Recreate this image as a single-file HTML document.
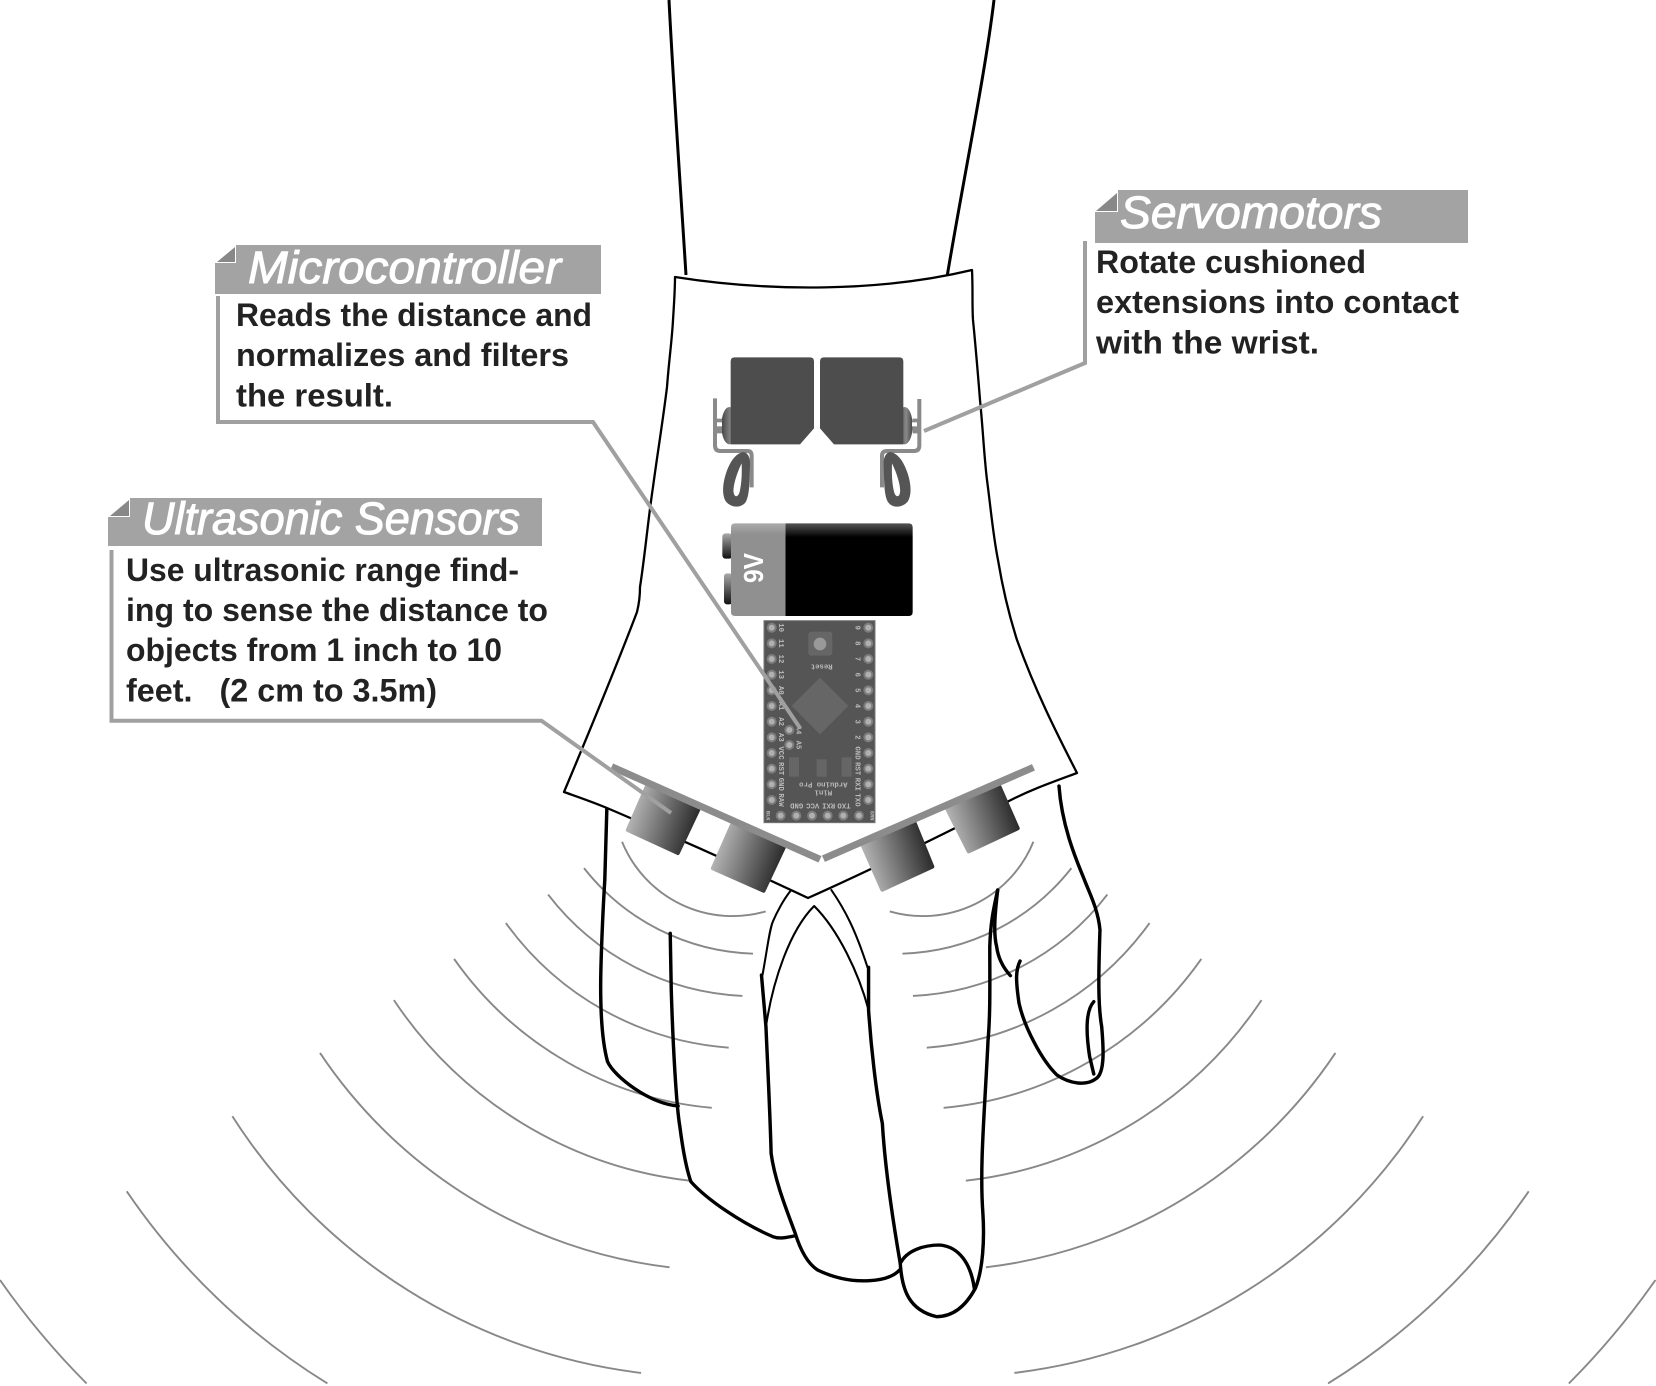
<!DOCTYPE html>
<html><head><meta charset="utf-8"><style>
html,body{margin:0;padding:0;background:#fff}
svg{display:block}
.t{font-family:"Liberation Sans",sans-serif;font-style:italic;fill:#fff;font-size:45px;stroke:#fff;stroke-width:1px}
.b{font-family:"Liberation Sans",sans-serif;font-weight:bold;fill:#222;font-size:32px}
.m{font-family:"Liberation Mono",monospace;fill:#bbb;font-size:22px;font-weight:bold}
</style></head><body>
<svg xmlns="http://www.w3.org/2000/svg" width="1656" height="1386" viewBox="0 0 1656 1386">
<defs>
<linearGradient id="sg" x1="0" y1="0.35" x2="1" y2="0.65"><stop offset="0" stop-color="#bdbdbd"/><stop offset="1" stop-color="#222"/></linearGradient>
<linearGradient id="sr" x1="0" y1="0.65" x2="1" y2="0.35"><stop offset="0" stop-color="#bdbdbd"/><stop offset="1" stop-color="#222"/></linearGradient>
<linearGradient id="bk" x1="0" y1="0" x2="0" y2="1"><stop offset="0" stop-color="#555"/><stop offset="0.15" stop-color="#000"/><stop offset="1" stop-color="#000"/></linearGradient>
<linearGradient id="gy" x1="0" y1="0" x2="0" y2="1"><stop offset="0" stop-color="#ababab"/><stop offset="0.12" stop-color="#909090"/><stop offset="1" stop-color="#909090"/></linearGradient>
<linearGradient id="tm" x1="0" y1="0" x2="0" y2="1"><stop offset="0" stop-color="#aaa"/><stop offset="1" stop-color="#111"/></linearGradient>
<linearGradient id="hn" x1="0" y1="0" x2="1" y2="0"><stop offset="0" stop-color="#444"/><stop offset="0.6" stop-color="#888"/><stop offset="1" stop-color="#444"/></linearGradient>
</defs>

<!-- sound arcs, display coords -->
<g transform="scale(1.0561)" fill="none" stroke="#888" stroke-width="1.8">
<path d="M589,797A113,113 0 0 0 725,863"/>
<path d="M553,822A212,212 0 0 0 713,903"/>
<path d="M519,847A246,246 0 0 0 703,943"/>
<path d="M479,874A286,286 0 0 0 690,992"/>
<path d="M430,908A335,335 0 0 0 674,1049"/>
<path d="M373,947A390,390 0 0 0 653,1118"/>
<path d="M303,997A464,464 0 0 0 634,1200"/>
<path d="M220,1057A536,536 0 0 0 607,1300"/>
<path d="M120,1128A630,630 0 0 0 310,1310"/>
<path d="M0,1212A730,730 0 0 0 82,1310"/>
<g transform="translate(1567.5,0) scale(-1,1)">
<path d="M589,797A113,113 0 0 0 725,863"/>
<path d="M553,822A212,212 0 0 0 713,903"/>
<path d="M519,847A246,246 0 0 0 703,943"/>
<path d="M479,874A286,286 0 0 0 690,992"/>
<path d="M430,908A335,335 0 0 0 674,1049"/>
<path d="M373,947A390,390 0 0 0 653,1118"/>
<path d="M303,997A464,464 0 0 0 634,1200"/>
<path d="M220,1057A536,536 0 0 0 607,1300"/>
<path d="M120,1128A630,630 0 0 0 310,1310"/>
<path d="M0,1212A730,730 0 0 0 82,1310"/>
</g>
</g>

<!-- hand -->
<g transform="translate(580,880) scale(.34435,.33333)" fill="none" stroke="#000" stroke-width="10" stroke-linecap="round" stroke-linejoin="round">
<path d="M78,-215L72,0C66,100 60,250 60,320C60,420 68,500 80,545C100,590 200,670 285,678"/>
<path d="M262,160L265,330C270,500 280,680 290,740C300,820 310,870 322,905C370,960 470,1030 560,1070C580,1078 600,1072 622,1068"/>
<path d="M527,285L540,440C545,560 552,700 555,820C565,900 600,990 625,1060C640,1110 660,1150 690,1170C740,1195 790,1205 840,1202C880,1200 910,1190 928,1170"/>
<path d="M838,262L838,390C845,500 860,640 878,730C885,850 905,1000 930,1150C935,1230 955,1290 1035,1310C1100,1310 1135,1250 1148,1225C1170,1170 1175,1080 1170,1000C1160,860 1175,700 1185,480C1192,400 1190,300 1190,200C1192,130 1200,90 1213,30"/>
<path d="M930,1150C950,1110 1000,1095 1045,1095C1100,1100 1135,1150 1145,1225"/>
<path d="M540,440C560,300 610,150 680,78C750,150 810,280 838,390" stroke-width="6"/>
<path d="M530,285C545,200 550,150 560,125C570,100 590,60 612,32" stroke-width="6"/>
<path d="M730,30C770,90 800,150 835,262" stroke-width="6"/>
<path d="M1213,30C1205,100 1200,160 1210,200C1215,240 1235,270 1250,287"/>
<path d="M1278,243C1265,270 1265,300 1275,370C1290,440 1340,540 1385,585C1420,610 1470,620 1500,595C1525,575 1520,500 1515,440C1505,380 1505,300 1510,150C1505,90 1480,40 1465,0C1450,-40 1400,-150 1391,-282"/>
<path d="M1492,365C1470,390 1468,450 1480,530L1492,582"/>
</g>

<!-- arm + sleeve -->
<g fill="none" stroke="#000" stroke-linejoin="round">
<path d="M669,0C673,80 680,180 686,275" stroke-width="3"/>
<path d="M994,0C985,75 965,170 947,277" stroke-width="3"/>
<path d="M675,277C770,292 880,292 972,270C973,290 972,305 973,320C976,350 978,375 980,400C983,430 984,455 987,480C991,510 993,535 998,560C1003,590 1009,615 1017,640C1035,690 1055,730 1077,773C1050,783 1030,790 1007,802C940,836 875,868 808,898C740,866 675,837 607,808C590,801 578,797 564,792C590,730 615,670 637,612C640,600 640,590 640,587C645,555 648,520 653,487C658,450 663,420 667,387C669,360 672,340 673,320C674,305 675,290 675,277Z" stroke-width="2.3" fill="#fff"/>
</g>

<!-- servos + battery -->
<g transform="translate(640,320) scale(.33333)">
<ellipse cx="268" cy="317" rx="24" ry="56" fill="url(#hn)"/>
<ellipse cx="794" cy="317" rx="24" ry="56" fill="url(#hn)"/>
<path d="M284,112H510Q522,112 522,124V325L480,373H272V124Q272,112 284,112Z" fill="#4d4d4d"/>
<path d="M552,112H778Q790,112 790,124V373H582L540,325V124Q540,112 552,112Z" fill="#4d4d4d"/>
<g fill="none" stroke="#8a8a8a" stroke-width="12">
<path d="M225,235V376Q225,393 241,393H322Q335,393 335,407V502"/>
<path d="M838,237V376Q838,393 822,393H742Q726,393 726,407V502"/>
</g>
<path d="M225,296H246V340H225Z M838,296H818V340H838Z" fill="#8a8a8a"/>
<rect x="231" y="307" width="15" height="12" fill="#fff"/>
<rect x="816" y="307" width="15" height="12" fill="#fff"/>
<path fill-rule="evenodd" fill="#555" d="M310,396C325,398 332,415 330,440C328,480 330,520 318,545C305,565 275,565 258,545C245,525 248,490 258,460C268,430 285,400 310,396ZM305,430C290,460 278,500 281,518C284,535 296,530 299,515C305,490 306,460 305,430Z"/>
<path transform="translate(1061,0) scale(-1,1)" fill-rule="evenodd" fill="#555" d="M310,396C325,398 332,415 330,440C328,480 330,520 318,545C305,565 275,565 258,545C245,525 248,490 258,460C268,430 285,400 310,396ZM305,430C290,460 278,500 281,518C284,535 296,530 299,515C305,490 306,460 305,430Z"/>
<rect x="247" y="640" width="30" height="76" rx="10" fill="url(#tm)"/>
<rect x="252" y="760" width="25" height="93" rx="9" fill="url(#tm)"/>
<path d="M436,610H806Q818,610 818,622V876Q818,888 806,888H436Z" fill="url(#bk)"/>
<path d="M436,610H285Q273,610 273,622V876Q273,888 285,888H436Z" fill="url(#gy)"/>
<text x="0" y="0" transform="translate(369,789) rotate(-90)" font-family="Liberation Sans,sans-serif" font-weight="bold" font-size="82" fill="#fff" textLength="90" lengthAdjust="spacingAndGlyphs">9V</text>
</g>

<!-- arduino -->
<g transform="translate(740,600) scale(.33333)">
<rect x="72" y="62" width="333" height="606" fill="#555"/>
<rect x="72" y="62" width="333" height="606" fill="none" stroke="#777" stroke-width="3"/>
<rect x="205" y="95" width="72" height="72" rx="8" fill="#666"/>
<circle cx="240" cy="132" r="19" fill="#999"/>
<path d="M240,233L325,318L240,403L155,318Z" fill="#666"/>
<rect x="147" y="472" width="30" height="58" fill="#666"/>
<rect x="230" y="478" width="30" height="52" fill="#666"/>
<rect x="305" y="472" width="30" height="58" fill="#666"/>
<g fill="#b0b0b0" stroke="#7c7c7c" stroke-width="6">
<circle cx="95" cy="83" r="12"/><circle cx="95" cy="130" r="12"/><circle cx="95" cy="177" r="12"/><circle cx="95" cy="224" r="12"/><circle cx="95" cy="271" r="12"/><circle cx="95" cy="318" r="12"/><circle cx="95" cy="365" r="12"/><circle cx="95" cy="412" r="12"/><circle cx="95" cy="459" r="12"/><circle cx="95" cy="506" r="12"/><circle cx="95" cy="553" r="12"/><circle cx="95" cy="600" r="12"/>
<circle cx="385" cy="83" r="12"/><circle cx="385" cy="130" r="12"/><circle cx="385" cy="177" r="12"/><circle cx="385" cy="224" r="12"/><circle cx="385" cy="271" r="12"/><circle cx="385" cy="318" r="12"/><circle cx="385" cy="365" r="12"/><circle cx="385" cy="412" r="12"/><circle cx="385" cy="459" r="12"/><circle cx="385" cy="506" r="12"/><circle cx="385" cy="553" r="12"/><circle cx="385" cy="600" r="12"/>
<circle cx="122" cy="647" r="12"/><circle cx="169" cy="647" r="12"/><circle cx="216" cy="647" r="12"/><circle cx="263" cy="647" r="12"/><circle cx="310" cy="647" r="12"/><circle cx="357" cy="647" r="12"/>
<circle cx="148" cy="390" r="12"/><circle cx="148" cy="435" r="12"/>
</g>
<g class="m" text-anchor="middle">
<text transform="translate(117,83) rotate(90)">10</text><text transform="translate(117,130) rotate(90)">11</text><text transform="translate(117,177) rotate(90)">12</text><text transform="translate(117,224) rotate(90)">13</text><text transform="translate(117,271) rotate(90)">A0</text><text transform="translate(117,318) rotate(90)">A1</text><text transform="translate(117,365) rotate(90)">A2</text><text transform="translate(117,412) rotate(90)">A3</text><text transform="translate(117,459) rotate(90)">VCC</text><text transform="translate(117,506) rotate(90)">RST</text><text transform="translate(117,553) rotate(90)">GND</text><text transform="translate(117,600) rotate(90)">RAW</text>
<text transform="translate(347,83) rotate(90)">9</text><text transform="translate(347,130) rotate(90)">8</text><text transform="translate(347,177) rotate(90)">7</text><text transform="translate(347,224) rotate(90)">6</text><text transform="translate(347,271) rotate(90)">5</text><text transform="translate(347,318) rotate(90)">4</text><text transform="translate(347,365) rotate(90)">3</text><text transform="translate(347,412) rotate(90)">2</text><text transform="translate(347,459) rotate(90)">GND</text><text transform="translate(347,506) rotate(90)">RST</text><text transform="translate(347,553) rotate(90)">RXI</text><text transform="translate(347,600) rotate(90)">TXO</text>
<text transform="translate(170,390) rotate(90)">A4</text><text transform="translate(170,435) rotate(90)">A5</text>
<text transform="translate(80,647) rotate(90)" font-size="16">BLK</text><text transform="translate(392,647) rotate(90)" font-size="16">GRN</text>
<text transform="translate(170,610) rotate(180)">GND</text><text transform="translate(218,610) rotate(180)">VCC</text><text transform="translate(266,610) rotate(180)">RXI</text><text transform="translate(312,610) rotate(180)">TXO</text>
<text transform="translate(250,572) rotate(180)">Mini</text><text transform="translate(250,548) rotate(180)">Arduino Pro</text><text transform="translate(245,193) rotate(180)">Reset</text>
</g>
</g>

<!-- sensors -->
<g transform="translate(560,740) scale(.34435,.33333)">
<polygon points="252,140 402,208 342,339 197,270" fill="url(#sg)" stroke="url(#sg)" stroke-width="12" stroke-linejoin="round"/>
<polygon points="499,256 650,322 591,452 444,385" fill="url(#sg)" stroke="url(#sg)" stroke-width="12" stroke-linejoin="round"/>
<polygon points="880,318 1030,250 1081,380 936,449" fill="url(#sr)" stroke="url(#sr)" stroke-width="12" stroke-linejoin="round"/>
<polygon points="1125,208 1276,140 1329,265 1187,334" fill="url(#sr)" stroke="url(#sr)" stroke-width="12" stroke-linejoin="round"/>
<path d="M150,80L755,358M765,356L1375,82" fill="none" stroke="#8c8c8c" stroke-width="21"/>
</g>

<!-- callouts -->
<g fill="none" stroke="#a0a0a0" stroke-width="4">
<path d="M218,296V422H593L800,728"/>
<path d="M111.5,550V720.7H541.5L671,813"/>
<path d="M1085,241V363L924,431"/>
</g>
<g fill="#a3a3a3">
<path d="M236,245H601V294H215V263H236Z"/>
<path d="M130,498H542V546H108V517H130Z"/>
<path d="M1118,190H1468V243H1095V212H1118Z"/>
</g>
<g fill="#888">
<path d="M217,262L235,247V262Z"/>
<path d="M110,516L129,500V516Z"/>
<path d="M1096,211L1117,193V211Z"/>
</g>
<text class="t" x="248" y="283" textLength="313" lengthAdjust="spacingAndGlyphs">Microcontroller</text>
<text class="t" x="142" y="534" textLength="378" lengthAdjust="spacingAndGlyphs">Ultrasonic Sensors</text>
<text class="t" x="1120" y="228" textLength="262" lengthAdjust="spacingAndGlyphs">Servomotors</text>
<text class="b" x="236" y="326" textLength="356" lengthAdjust="spacingAndGlyphs">Reads the distance and</text>
<text class="b" x="236" y="366" textLength="333" lengthAdjust="spacingAndGlyphs">normalizes and filters</text>
<text class="b" x="236" y="406.5" textLength="157" lengthAdjust="spacingAndGlyphs">the result.</text>
<text class="b" x="126" y="581" textLength="393" lengthAdjust="spacingAndGlyphs">Use ultrasonic range find-</text>
<text class="b" x="126" y="621" textLength="422" lengthAdjust="spacingAndGlyphs">ing to sense the distance to</text>
<text class="b" x="126" y="661" textLength="376" lengthAdjust="spacingAndGlyphs">objects from 1 inch to 10</text>
<text class="b" x="126" y="701.5" textLength="311" lengthAdjust="spacingAndGlyphs" xml:space="preserve">feet.   (2 cm to 3.5m)</text>
<text class="b" x="1096" y="273" textLength="270" lengthAdjust="spacingAndGlyphs">Rotate cushioned</text>
<text class="b" x="1096" y="313" textLength="363" lengthAdjust="spacingAndGlyphs">extensions into contact</text>
<text class="b" x="1096" y="353.5" textLength="223" lengthAdjust="spacingAndGlyphs">with the wrist.</text>
</svg>
</body></html>
